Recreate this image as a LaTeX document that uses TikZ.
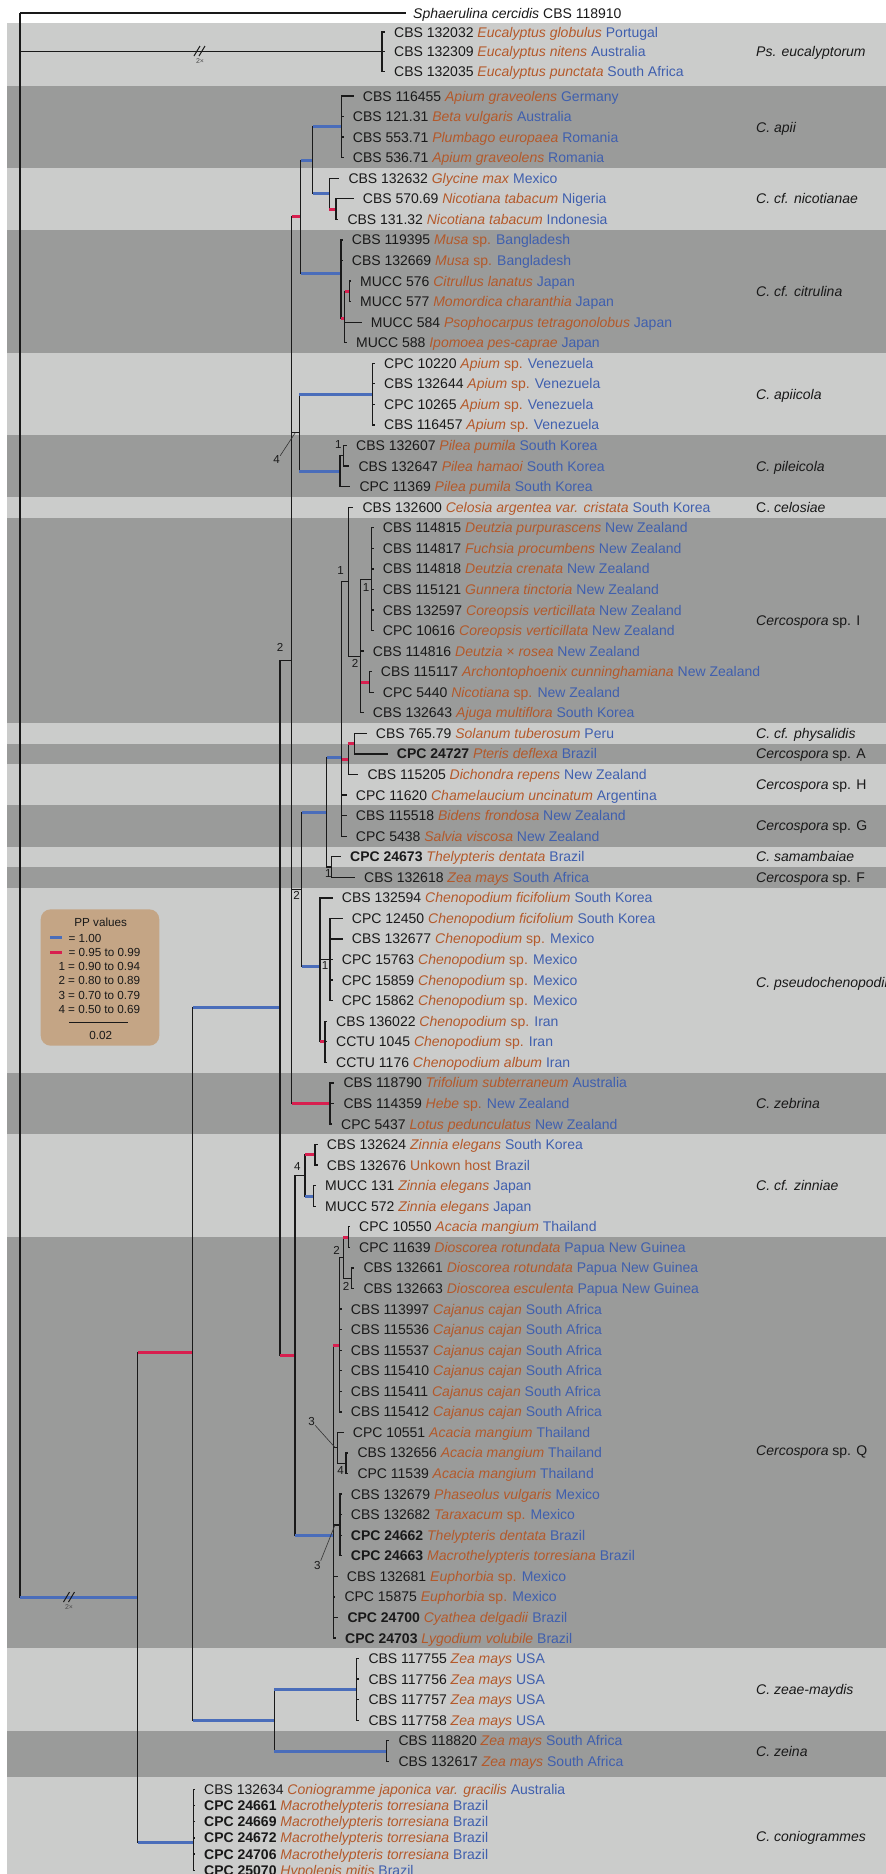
\documentclass[tikz,border=0pt]{standalone}
\usepackage{fontspec}
\setmainfont{Liberation Sans}
\usepackage{tikz}
\definecolor{hostc}{HTML}{B4592A}
\definecolor{ctryc}{HTML}{3F5FAE}
\definecolor{ppblue}{HTML}{4A6DBA}
\definecolor{ppred}{HTML}{D81F4F}
\definecolor{bandlight}{HTML}{CBCCCB}
\definecolor{banddark}{HTML}{9A9B9A}
\definecolor{legtan}{HTML}{C4A585}

% label of a strain: number, host, country
\newcommand{\lab}[3]{#1 \textcolor{hostc}{\textit{#2}} \textcolor{ctryc}{#3}}
% branches: black, and coloured by PP value
\newcommand{\br}[2]{\draw[brl] (#1) |- (#2);}
\newcommand{\cbr}[3]{\draw[brl] (#2) |- (#3); \draw[#1] (#2 |- #3) -- (#3);}
% tips: parent, name, row, text x, text
\newcommand{\tp}[5]{\node[tiplab] (#2) at (#4,{96+20.56*(#3-5)}) {#5}; \draw[brl] (#1) |- ([xshift=-9pt]#2.west);}
\newcommand{\tpy}[5]{\node[tiplab] (#2) at (#4,#3) {#5}; \draw[brl] (#1) |- ([xshift=-9pt]#2.west);}

\begin{document}
\begin{tikzpicture}[x=1pt,y=-1pt,every node/.style={font=\fontsize{14}{16}\selectfont,text=black!90,inner sep=0pt},
brl/.style={line width=1.3pt,black!90},pp1/.style={line width=3pt,ppblue},pp2/.style={line width=3pt,ppred},
tiplab/.style={anchor=west,text height=10pt,text depth=0pt},clade/.style={anchor=west,text height=10pt,text depth=0pt},
ppnum/.style={font=\fontsize{11.6}{13}\selectfont},lead/.style={line width=0.6pt,black!80},
legtxt/.style={font=\fontsize{11.7}{13}\selectfont,anchor=west,text height=8.4pt,text depth=0pt},
legbox/.style={fill=legtan,rounded corners=10pt,minimum width=118.6pt,minimum height=136.4pt}]
\useasboundingbox (0,0) rectangle (886,1874);
\clip (0,0) rectangle (886,1874);

% shaded bands of the species
\foreach \ya/\yb/\bc in {22.7/86/bandlight,86/168/banddark,168/229.7/bandlight,229.7/353/banddark,353/435.2/bandlight,435.2/496.9/banddark,496.9/517.5/bandlight,517.5/723.1/banddark,723.1/743.65/bandlight,743.65/764.2/banddark,764.2/805.3/bandlight,805.3/846.5/banddark,846.5/867/bandlight,867/887.6/banddark,887.6/1072.6/bandlight,1072.6/1134.3/banddark,1134.3/1237.1/bandlight,1237.1/1648.3/banddark,1648.3/1730.5/bandlight,1730.5/1776.7/banddark,1776.7/1880/bandlight}
  \fill[\bc] (7,\ya) rectangle (886,\yb);

% internal nodes
\coordinate (root) at (20,13);
\coordinate (PE) at (382,51.8);
\coordinate (M0) at (137.7,1597.7);
\coordinate (M1) at (192.7,1352.7);
\coordinate (CG) at (193.3,1842);
\coordinate (B) at (280,1007.9);
\coordinate (Z) at (274.3,1720.25);
\coordinate (ZM) at (356.7,1689.4);
\coordinate (ZE) at (386.7,1751.1);
\coordinate (D) at (291.7,660.5);
\coordinate (C) at (295,1355.35);
\coordinate (T1) at (300.7,216.6);
\coordinate (T2) at (312.7,160.2);
\coordinate (APII) at (341.7,126.8);
\coordinate (NIC) at (329.3,193.65);
\coordinate (NIC2) at (336,209.1);
\coordinate (CIT) at (341,273);
\coordinate (CIT2) at (344.5,318.7);
\coordinate (CIT3) at (349.3,291.3);
\coordinate (F) at (299.3,432.7);
\coordinate (APC) at (372.7,394.1);
\coordinate (PIL) at (340,471.2);
\coordinate (PIL2) at (343.3,455.8);
\coordinate (E) at (301.7,889.3);
\coordinate (G) at (326.7,812.25);
\coordinate (H) at (341.7,757.5);
\coordinate (I) at (331.7,867);
\coordinate (CE) at (348.3,581.75);
\coordinate (DZ) at (360.5,656.3);
\coordinate (DZ1) at (371.7,579.2);
\coordinate (DZ2) at (369.3,682);
\coordinate (SOL) at (348.3,759.1);
\coordinate (SOL2) at (354.3,743.65);
\coordinate (CH) at (320,966.4);
\coordinate (CH2) at (330,959.5);
\coordinate (CH3) at (325,1041.8);
\coordinate (ZB) at (330,1103.4);
\coordinate (ZI) at (305,1175.4);
\coordinate (ZI1) at (315,1154.9);
\coordinate (ZI2) at (313.3,1196);
\coordinate (SQ) at (333.3,1535.3);
\coordinate (Q1) at (339.3,1345.7);
\coordinate (D2) at (343.3,1257.6);
\coordinate (D3) at (348.3,1237.1);
\coordinate (D4) at (351.7,1278.2);
\coordinate (AC) at (337.3,1447.8);
\coordinate (AC2) at (346,1463.25);
\coordinate (PH) at (340,1524.9);

% backbone
\br{root}{PE}
\cbr{pp1}{root}{M0}
\cbr{pp2}{M0}{M1}
\cbr{pp1}{M0}{CG}
\cbr{pp1}{M1}{B}
\cbr{pp1}{M1}{Z}
\cbr{pp1}{Z}{ZM}
\cbr{pp1}{Z}{ZE}
\br{B}{D}
\cbr{pp2}{B}{C}
\cbr{pp2}{D}{T1}
\br{D}{F}
\br{D}{E}
\cbr{pp2}{D}{ZB}
\cbr{pp1}{T1}{T2}
\cbr{pp1}{T1}{CIT}
\cbr{pp1}{T2}{APII}
\cbr{pp1}{T2}{NIC}
\cbr{pp2}{NIC}{NIC2}
\cbr{pp2}{CIT}{CIT2}
\cbr{pp2}{CIT2}{CIT3}
\cbr{pp1}{F}{APC}
\cbr{pp1}{F}{PIL}
\br{PIL}{PIL2}
\cbr{pp1}{E}{G}
\cbr{pp1}{E}{CH}
\cbr{pp1}{G}{H}
\br{G}{I}
\br{H}{CE}
\cbr{pp2}{H}{SOL}
\cbr{pp2}{SOL}{SOL2}
\br{CE}{DZ}
\br{DZ}{DZ1}
\cbr{pp2}{DZ}{DZ2}
\br{CH}{CH2}
\cbr{pp2}{CH}{CH3}
\br{C}{ZI}
\cbr{pp1}{C}{SQ}
\cbr{pp2}{ZI}{ZI1}
\cbr{pp1}{ZI}{ZI2}
\cbr{pp2}{SQ}{Q1}
\br{SQ}{AC}
\br{SQ}{PH}
\br{Q1}{D2}
\cbr{pp2}{D2}{D3}
\br{D2}{D4}
\br{AC}{AC2}

% long branches cut short
\draw[brl,line width=1pt] (194,56)--(200,46) (199,56)--(205,46);
\node[font=\fontsize{7}{8}\selectfont,text=black!70] (cut1) at (200,61) {2×};
\draw[brl,line width=1pt] (63.5,1602)--(69.5,1592) (68.5,1602)--(74.5,1592);
\node[font=\fontsize{7}{8}\selectfont,text=black!70] (cut2) at (69,1607) {2×};

% tips
\node[tiplab] (sph) at (413,13) {\textit{Sphaerulina cercidis} CBS 118910};
\draw[brl] (root) -- ([xshift=-7pt]sph.west);
\tpy{PE}{pe1}{32}{394}{\lab{CBS 132032}{Eucalyptus globulus}{Portugal}}
\tpy{PE}{pe2}{51.8}{394}{\lab{CBS 132309}{Eucalyptus nitens}{Australia}}
\tpy{PE}{pe3}{71.6}{394}{\lab{CBS 132035}{Eucalyptus punctata}{South Africa}}
\tp{APII}{t05}{5}{362.7}{\lab{CBS 116455}{Apium graveolens}{Germany}}
\tp{APII}{t06}{6}{352.7}{\lab{CBS 121.31}{Beta vulgaris}{Australia}}
\tp{APII}{t07}{7}{352.7}{\lab{CBS 553.71}{Plumbago europaea}{Romania}}
\tp{APII}{t08}{8}{352.7}{\lab{CBS 536.71}{Apium graveolens}{Romania}}
\tp{NIC}{t09}{9}{348.3}{\lab{CBS 132632}{Glycine max}{Mexico}}
\tp{NIC2}{t10}{10}{362.7}{\lab{CBS 570.69}{Nicotiana tabacum}{Nigeria}}
\tp{NIC2}{t11}{11}{347.3}{\lab{CBS 131.32}{Nicotiana tabacum}{Indonesia}}
\tp{CIT}{t12}{12}{351.7}{\lab{CBS 119395}{Musa \upshape sp.}{Bangladesh}}
\tp{CIT}{t13}{13}{351.7}{\lab{CBS 132669}{Musa \upshape sp.}{Bangladesh}}
\tp{CIT3}{t14}{14}{360}{\lab{MUCC 576}{Citrullus lanatus}{Japan}}
\tp{CIT3}{t15}{15}{360}{\lab{MUCC 577}{Momordica charanthia}{Japan}}
\tp{CIT2}{t16}{16}{370.7}{\lab{MUCC 584}{Psophocarpus tetragonolobus}{Japan}}
\tp{CIT2}{t17}{17}{356}{\lab{MUCC 588}{Ipomoea pes-caprae}{Japan}}
\tp{APC}{t18}{18}{384}{\lab{CPC 10220}{Apium \upshape sp.}{Venezuela}}
\tp{APC}{t19}{19}{384}{\lab{CBS 132644}{Apium \upshape sp.}{Venezuela}}
\tp{APC}{t20}{20}{384}{\lab{CPC 10265}{Apium \upshape sp.}{Venezuela}}
\tp{APC}{t21}{21}{384}{\lab{CBS 116457}{Apium \upshape sp.}{Venezuela}}
\tp{PIL2}{t22}{22}{356}{\lab{CBS 132607}{Pilea pumila}{South Korea}}
\tp{PIL2}{t23}{23}{358.3}{\lab{CBS 132647}{Pilea hamaoi}{South Korea}}
\tp{PIL}{t24}{24}{359.3}{\lab{CPC 11369}{Pilea pumila}{South Korea}}
\tp{CE}{t25}{25}{362.3}{\lab{CBS 132600}{Celosia argentea var. cristata}{South Korea}}
\tp{DZ1}{t26}{26}{382.7}{\lab{CBS 114815}{Deutzia purpurascens}{New Zealand}}
\tp{DZ1}{t27}{27}{382.7}{\lab{CBS 114817}{Fuchsia procumbens}{New Zealand}}
\tp{DZ1}{t28}{28}{382.7}{\lab{CBS 114818}{Deutzia crenata}{New Zealand}}
\tp{DZ1}{t29}{29}{382.7}{\lab{CBS 115121}{Gunnera tinctoria}{New Zealand}}
\tp{DZ1}{t30}{30}{382.7}{\lab{CBS 132597}{Coreopsis verticillata}{New Zealand}}
\tp{DZ1}{t31}{31}{382.7}{\lab{CPC 10616}{Coreopsis verticillata}{New Zealand}}
\tp{DZ}{t32}{32}{372.7}{\lab{CBS 114816}{Deutzia × rosea}{New Zealand}}
\tp{DZ2}{t33}{33}{380.7}{\lab{CBS 115117}{Archontophoenix cunninghamiana}{New Zealand}}
\tp{DZ2}{t34}{34}{382.7}{\lab{CPC 5440}{Nicotiana \upshape sp.}{New Zealand}}
\tp{DZ}{t35}{35}{372.7}{\lab{CBS 132643}{Ajuga multiflora}{South Korea}}
\tp{SOL2}{t36}{36}{375.7}{\lab{CBS 765.79}{Solanum tuberosum}{Peru}}
\tp{SOL2}{t37}{37}{396.7}{\lab{\textbf{CPC 24727}}{Pteris deflexa}{Brazil}}
\tp{SOL}{t38}{38}{367.3}{\lab{CBS 115205}{Dichondra repens}{New Zealand}}
\tp{H}{t39}{39}{355.7}{\lab{CPC 11620}{Chamelaucium uncinatum}{Argentina}}
\tp{H}{t40}{40}{355.7}{\lab{CBS 115518}{Bidens frondosa}{New Zealand}}
\tp{H}{t41}{41}{355.7}{\lab{CPC 5438}{Salvia viscosa}{New Zealand}}
\tp{I}{t42}{42}{350}{\lab{\textbf{CPC 24673}}{Thelypteris dentata}{Brazil}}
\tp{I}{t43}{43}{364}{\lab{CBS 132618}{Zea mays}{South Africa}}
\tp{CH}{t44}{44}{341.7}{\lab{CBS 132594}{Chenopodium ficifolium}{South Korea}}
\tp{CH2}{t45}{45}{351.7}{\lab{CPC 12450}{Chenopodium ficifolium}{South Korea}}
\tp{CH2}{t46}{46}{351.7}{\lab{CBS 132677}{Chenopodium \upshape sp.}{Mexico}}
\tp{CH2}{t47}{47}{341.7}{\lab{CPC 15763}{Chenopodium \upshape sp.}{Mexico}}
\tp{CH2}{t48}{48}{341.7}{\lab{CPC 15859}{Chenopodium \upshape sp.}{Mexico}}
\tp{CH2}{t49}{49}{341.7}{\lab{CPC 15862}{Chenopodium \upshape sp.}{Mexico}}
\tp{CH3}{t50}{50}{336}{\lab{CBS 136022}{Chenopodium \upshape sp.}{Iran}}
\tp{CH3}{t51}{51}{336}{\lab{CCTU 1045}{Chenopodium \upshape sp.}{Iran}}
\tp{CH3}{t52}{52}{336}{\lab{CCTU 1176}{Chenopodium album}{Iran}}
\tp{ZB}{t53}{53}{343.3}{\lab{CBS 118790}{Trifolium subterraneum}{Australia}}
\tp{ZB}{t54}{54}{343.3}{\lab{CBS 114359}{Hebe \upshape sp.}{New Zealand}}
\tp{ZB}{t55}{55}{341}{\lab{CPC 5437}{Lotus pedunculatus}{New Zealand}}
\tp{ZI1}{t56}{56}{326.7}{\lab{CBS 132624}{Zinnia elegans}{South Korea}}
\tp{ZI1}{t57}{57}{326.7}{\lab{CBS 132676}{\upshape Unkown host}{Brazil}}
\tp{ZI2}{t58}{58}{325}{\lab{MUCC 131}{Zinnia elegans}{Japan}}
\tp{ZI2}{t59}{59}{325}{\lab{MUCC 572}{Zinnia elegans}{Japan}}
\tp{D3}{t60}{60}{359}{\lab{CPC 10550}{Acacia mangium}{Thailand}}
\tp{D3}{t61}{61}{359}{\lab{CPC 11639}{Dioscorea rotundata}{Papua New Guinea}}
\tp{D4}{t62}{62}{363.3}{\lab{CBS 132661}{Dioscorea rotundata}{Papua New Guinea}}
\tp{D4}{t63}{63}{363.3}{\lab{CBS 132663}{Dioscorea esculenta}{Papua New Guinea}}
\tp{Q1}{t64}{64}{350.7}{\lab{CBS 113997}{Cajanus cajan}{South Africa}}
\tp{Q1}{t65}{65}{350.7}{\lab{CBS 115536}{Cajanus cajan}{South Africa}}
\tp{Q1}{t66}{66}{350.7}{\lab{CBS 115537}{Cajanus cajan}{South Africa}}
\tp{Q1}{t67}{67}{350.7}{\lab{CBS 115410}{Cajanus cajan}{South Africa}}
\tp{Q1}{t68}{68}{350.7}{\lab{CBS 115411}{Cajanus cajan}{South Africa}}
\tp{Q1}{t69}{69}{350.7}{\lab{CBS 115412}{Cajanus cajan}{South Africa}}
\tp{AC}{t70}{70}{352.7}{\lab{CPC 10551}{Acacia mangium}{Thailand}}
\tp{AC2}{t71}{71}{357.3}{\lab{CBS 132656}{Acacia mangium}{Thailand}}
\tp{AC2}{t72}{72}{357.3}{\lab{CPC 11539}{Acacia mangium}{Thailand}}
\tp{PH}{t73}{73}{350.7}{\lab{CBS 132679}{Phaseolus vulgaris}{Mexico}}
\tp{PH}{t74}{74}{350.7}{\lab{CBS 132682}{Taraxacum \upshape sp.}{Mexico}}
\tp{PH}{t75}{75}{350.7}{\lab{\textbf{CPC 24662}}{Thelypteris dentata}{Brazil}}
\tp{PH}{t76}{76}{350.7}{\lab{\textbf{CPC 24663}}{Macrothelypteris torresiana}{Brazil}}
\tp{SQ}{t77}{77}{346.7}{\lab{CBS 132681}{Euphorbia \upshape sp.}{Mexico}}
\tp{SQ}{t78}{78}{344.3}{\lab{CPC 15875}{Euphorbia \upshape sp.}{Mexico}}
\tp{SQ}{t79}{79}{347.3}{\lab{\textbf{CPC 24700}}{Cyathea delgadii}{Brazil}}
\tp{SQ}{t80}{80}{345}{\lab{\textbf{CPC 24703}}{Lygodium volubile}{Brazil}}
\tp{ZM}{t81}{81}{368.3}{\lab{CBS 117755}{Zea mays}{USA}}
\tp{ZM}{t82}{82}{368.3}{\lab{CBS 117756}{Zea mays}{USA}}
\tp{ZM}{t83}{83}{368.3}{\lab{CBS 117757}{Zea mays}{USA}}
\tp{ZM}{t84}{84}{368.3}{\lab{CBS 117758}{Zea mays}{USA}}
\tp{ZE}{t85}{85}{398.3}{\lab{CBS 118820}{Zea mays}{South Africa}}
\tp{ZE}{t86}{86}{398.3}{\lab{CBS 132617}{Zea mays}{South Africa}}
\tpy{CG}{cg1}{1789.3}{204}{\lab{CBS 132634}{Coniogramme japonica var. gracilis}{Australia}}
\tpy{CG}{cg2}{1805.5}{204}{\lab{\textbf{CPC 24661}}{Macrothelypteris torresiana}{Brazil}}
\tpy{CG}{cg3}{1821.7}{204}{\lab{\textbf{CPC 24669}}{Macrothelypteris torresiana}{Brazil}}
\tpy{CG}{cg4}{1837.9}{204}{\lab{\textbf{CPC 24672}}{Macrothelypteris torresiana}{Brazil}}
\tpy{CG}{cg5}{1854.1}{204}{\lab{\textbf{CPC 24706}}{Macrothelypteris torresiana}{Brazil}}
\tpy{CG}{cg6}{1870.3}{204}{\lab{\textbf{CPC 25070}}{Hypolepis mitis}{Brazil}}

% PP values below 0.95
\node[ppnum] (nD) at (280,647) {2};
\node[ppnum] (nF) at (276.7,460) {4};
\draw[lead] (nF.north east) -- ([xshift=-4pt]F);
\node[ppnum] (nPIL2) at (338.3,445) {1};
\node[ppnum] (nCE) at (340.7,570.7) {1};
\node[ppnum] (nDZ1) at (366,587.3) {1};
\node[ppnum] (nDZ) at (355,663.3) {2};
\node[ppnum] (nI) at (328.3,873) {1};
\node[ppnum] (nE) at (296.7,895) {2};
\node[ppnum] (nCH2) at (325,965) {1};
\node[ppnum] (nZI) at (297.3,1166) {4};
\node[ppnum] (nD2) at (336.7,1250.7) {2};
\node[ppnum] (nD4) at (346,1286.7) {2};
\node[ppnum] (nAC) at (311.7,1421) {3};
\draw[lead] (nAC.south east) -- ([xshift=-2pt]AC);
\node[ppnum] (nAC2) at (340.7,1470) {4};
\node[ppnum] (nPH) at (317.3,1565) {3};
\draw[lead] (nPH.north east) -- ([xshift=-5pt]PH);

% species names
\node[clade] (sp01) at (756,51.7) {\textit{Ps. eucalyptorum}};
\node[clade] (sp02) at (756,127) {\textit{C. apii}};
\node[clade] (sp03) at (756,198.9) {\textit{C. cf. nicotianae}};
\node[clade] (sp04) at (756,291.3) {\textit{C. cf. citrulina}};
\node[clade] (sp05) at (756,394.1) {\textit{C. apiicola}};
\node[clade] (sp06) at (756,466) {\textit{C. pileicola}};
\node[clade] (sp07) at (756,507.2) {C. \textit{celosiae}};
\node[clade] (sp08) at (756,620.3) {\textit{Cercospora} sp. I};
\node[clade] (sp09) at (756,733.4) {\textit{C. cf. physalidis}};
\node[clade] (sp10) at (756,753.9) {\textit{Cercospora} sp. A};
\node[clade] (sp11) at (756,784.7) {\textit{Cercospora} sp. H};
\node[clade] (sp12) at (756,825.9) {\textit{Cercospora} sp. G};
\node[clade] (sp13) at (756,856.7) {\textit{C. samambaiae}};
\node[clade] (sp14) at (756,877.3) {\textit{Cercospora} sp. F};
\node[clade] (sp15) at (756,982) {\textit{C. pseudochenopodii}};
\node[clade] (sp16) at (756,1103.4) {\textit{C. zebrina}};
\node[clade] (sp17) at (756,1185.7) {\textit{C. cf. zinniae}};
\node[clade] (sp18) at (756,1450) {\textit{Cercospora} sp. Q};
\node[clade] (sp19) at (756,1689.4) {\textit{C. zeae-maydis}};
\node[clade] (sp20) at (756,1751) {\textit{C. zeina}};
\node[clade] (sp21) at (756,1836) {\textit{C. coniogrammes}};

% legend
\node[legbox] (leg) at (100,977.5) {};
\node[legtxt,anchor=center] (legtitle) at (100.7,922.7) {PP values};
\draw[pp1] (50,937.7) -- (61.7,937.7);
\node[legtxt] (leg1) at (68.3,938) {= 1.00};
\draw[pp2] (50,952.3) -- (61.7,952.3);
\node[legtxt] (leg2) at (68.3,952.3) {= 0.95 to 0.99};
\node[legtxt] (leg3) at (58.3,966.7) {1 = 0.90 to 0.94};
\node[legtxt] (leg4) at (58.3,980.7) {2 = 0.80 to 0.89};
\node[legtxt] (leg5) at (58.3,995) {3 = 0.70 to 0.79};
\node[legtxt] (leg6) at (58.3,1009.7) {4 = 0.50 to 0.69};
\draw[brl] (69,1022.7) -- (127.7,1022.7);
\node[legtxt,anchor=center] (legbar) at (100.7,1035) {0.02};
\end{tikzpicture}
\end{document}
